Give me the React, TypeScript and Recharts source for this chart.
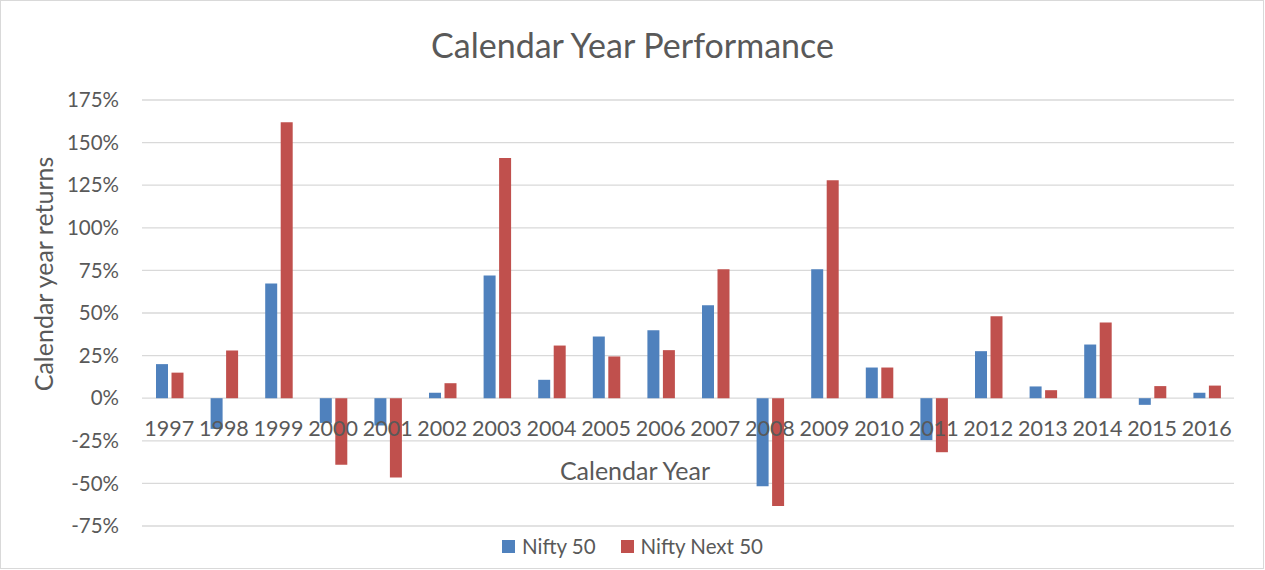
import React from 'react';
import { BarChart, Bar, XAxis, YAxis, CartesianGrid, Legend } from 'recharts';

const years = ['1997', '1998', '1999', '2000', '2001', '2002', '2003', '2004', '2005', '2006',
  '2007', '2008', '2009', '2010', '2011', '2012', '2013', '2014', '2015', '2016'];
const nifty50 = [20, -18, 67.3, -14.5, -16, 3.2, 72, 10.8, 36.2, 39.9,
  54.6, -51.6, 75.7, 18, -24.6, 27.6, 6.9, 31.5, -3.9, 3.2];
const niftyNext50 = [15, 28, 162, -39, -46.5, 8.8, 141, 30.9, 24.5, 28.2,
  75.7, -63.3, 127.9, 18, -31.7, 48.1, 4.7, 44.4, 7.1, 7.4];
const yTicks = [-75, -50, -25, 0, 25, 50, 75, 100, 125, 150, 175];
const seriesNames = ['Nifty 50', 'Nifty Next 50'];
const seriesColors = ['#4F81BD', '#C0504D'];

const data = years.map((year, i) => ({
  year,
  nifty50: nifty50[i],
  niftyNext50: niftyNext50[i],
}));

const W = 1265;
const H = 570;
const TOP = 100;
const BOTTOM = 526;
const LEFT = 142;
const RIGHT = 1234;
const Y_AXIS_W = 80;
const X_AXIS_H = 30;
const ZERO_Y = TOP + (BOTTOM - TOP) * (175 / 250);

const TEXT = '#595959';
const FONT = 'Lato, "Open Sans", sans-serif';

const YearTick = (props: any) => (
  <text x={props.x} y={ZERO_Y + 38} textAnchor="middle" fill={TEXT} fontSize={21.5} fontFamily={FONT}>
    {props.payload.value}
  </text>
);

const LegendContent = () => (
  <div style={{ display: 'flex', justifyContent: 'center', fontFamily: FONT, fontSize: 20.5, color: TEXT }}>
    {seriesNames.map((name, i) => (
      <div key={name} style={{ display: 'flex', alignItems: 'center', marginLeft: i ? 25 : 0 }}>
        <span style={{ width: 13, height: 13, background: seriesColors[i], marginRight: 7, display: 'inline-block' }} />
        <span>{name}</span>
      </div>
    ))}
  </div>
);

export default function App() {
  return (
    <div style={{ position: 'absolute', left: 0, top: 0, width: W, height: H, background: '#fff' }}>
      <div style={{
        position: 'absolute', left: 0, top: 0, width: W - 1, height: H - 1,
        border: '1px solid #d9d9d9', boxSizing: 'border-box',
      }} />
      <div style={{
        position: 'absolute', left: 0, top: 24, width: W, textAlign: 'center',
        fontFamily: FONT, fontSize: 34, lineHeight: '42px', color: TEXT,
      }}>
        Calendar Year Performance
      </div>
      <div style={{ position: 'absolute', left: 0, top: 0 }}>
        <BarChart
          width={W}
          height={H}
          data={data}
          barGap={3.5}
          margin={{ top: TOP, right: W - RIGHT, left: LEFT - Y_AXIS_W, bottom: H - BOTTOM - X_AXIS_H }}
        >
          <CartesianGrid vertical={false} stroke="#d9d9d9" strokeWidth={1.3} />
          <YAxis
            width={Y_AXIS_W}
            domain={[-75, 175]}
            ticks={yTicks}
            interval={0}
            tickFormatter={(v) => `${v}%`}
            axisLine={false}
            tickLine={false}
            tickSize={0}
            tickMargin={23}
            tick={{ fill: TEXT, fontSize: 20.5, fontFamily: FONT }}
            label={{
              content: () => (
                <text
                  x={43}
                  y={274}
                  transform="rotate(-90 43 274)"
                  textAnchor="middle"
                  dominantBaseline="central"
                  fill={TEXT}
                  fontSize={25}
                  fontFamily={FONT}
                >
                  Calendar year returns
                </text>
              ),
            }}
          />
          <Bar dataKey="nifty50" name={seriesNames[0]} fill={seriesColors[0]} barSize={12} isAnimationActive={false} />
          <Bar dataKey="niftyNext50" name={seriesNames[1]} fill={seriesColors[1]} barSize={12} isAnimationActive={false} />
          <XAxis
            dataKey="year"
            height={X_AXIS_H}
            axisLine={false}
            tickLine={false}
            interval={0}
            tick={<YearTick />}
            label={{
              content: () => (
                <text x={635} y={470} textAnchor="middle" dominantBaseline="central" fill={TEXT} fontSize={25} fontFamily={FONT}>
                  Calendar Year
                </text>
              ),
            }}
          />
          <Legend
            layout="horizontal"
            verticalAlign="middle"
            align="center"
            content={<LegendContent />}
            wrapperStyle={{ top: 534, left: 0, width: W }}
          />
        </BarChart>
      </div>
    </div>
  );
}
